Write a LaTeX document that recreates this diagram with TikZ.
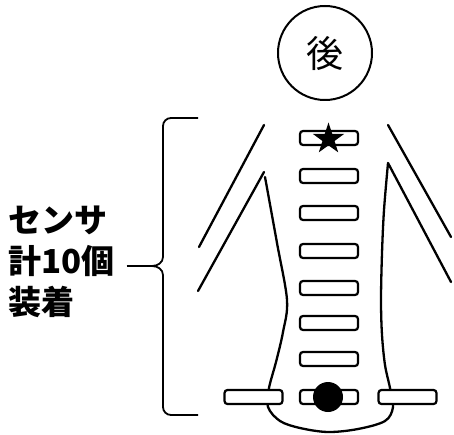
\documentclass[tikz,border=0pt]{standalone}
\usepackage{fontspec}
\newfontfamily\jp{Noto Sans CJK JP}
\usetikzlibrary{shapes.geometric}
\begin{document}
\begin{tikzpicture}[x=1pt,y=-1pt,
  outline/.style={line width=2.3pt,line cap=round,line join=round},
  sensor/.style={draw,fill=white,line width=2.2pt,rounded corners=3pt,
    minimum width=58pt,minimum height=14pt,inner sep=0pt},
  bracket/.style={line width=1.8pt},
  tag/.style={font=\jp\bfseries\fontsize{33}{41}\selectfont,align=left,inner sep=0pt}]
\useasboundingbox (0,0) rectangle (454,435);

% head
\node[draw,circle,line width=2pt,minimum size=94pt,inner sep=0pt,
  font=\jp\fontsize{37}{37}\selectfont] (head) at (325,53) {後};

% arms
\draw[outline] (264,125) -- (199,247);
\draw[outline] (264,172) -- (198,291);
\draw[outline] (388,125) -- (451,237);

% torso outline with the inner right arm
\draw[outline] plot[smooth,tension=0.55] coordinates {
  (265,177) (277,243) (287,300) (283,332) (276,362) (269,388) (268,407)
  (280,421) (300,428) (328,432) (358,429) (385,421) (393,407)
  (390,388) (385,365) (382,335) (381,300) (382,253) (384,210) (388,163)}
  -- (451,282);

% sensors along the spine
\foreach \i/\y in {1/138,2/176,3/213,4/251,5/288,6/323,7/359,8/397}
  \node[sensor] (s\i) at (329,\y) {};
\node[sensor] (sL) at (253.5,397) {};
\node[sensor] (sR) at (407.5,397) {};

% markers
\node[star,star points=5,star point ratio=2.6,fill=black,inner sep=0pt,
  minimum size=33pt] (mark) at (328.5,139) {};
\node[circle,fill=black,inner sep=0pt,minimum size=30pt] (dot) at (328,397) {};

% bracket and label
\coordinate (tip) at (152,266);
\draw[bracket] (198,118) -- (171,118) to[out=180,in=90] (163,126)
  -- (163,257) to[out=-90,in=0] (tip) to[out=0,in=90] (163,275)
  -- (163,407) to[out=-90,in=180] (171,415) -- (198,415);
\node[tag,anchor=west] (label) at (8,262) {センサ\\計10個\\装着};
\draw[bracket] ([xshift=12pt]label.east |- tip) -- (tip);
\end{tikzpicture}
\end{document}
